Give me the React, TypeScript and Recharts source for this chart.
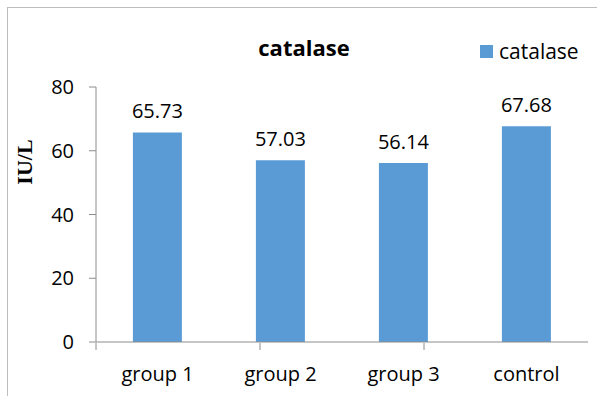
import React from "react";
import { BarChart, Bar, XAxis, YAxis, LabelList, Legend } from "recharts";

const categories = ["group 1", "group 2", "group 3", "control"];
const catalaseValues = [65.73, 57.03, 56.14, 67.68];
const yTicks = [0, 20, 40, 60, 80];
const boundaryTicks = [0, 1, 2, 3, 4];
const seriesName = "catalase";
const chartTitle = "catalase";
const yAxisTitle = "IU/L";

const data = categories.map((c, i) => ({ name: c, catalase: catalaseValues[i] }));

const FONT = "'Open Sans', sans-serif";
const BLUE = "#5B9BD5";
const AXIS = "#8c8c8c";

const LegendContent = () => (
  <div style={{ display: "flex", alignItems: "center", fontFamily: FONT, fontSize: 21, color: "#000" }}>
    <span style={{ display: "inline-block", width: 13, height: 13, background: BLUE, marginRight: 6 }} />
    <span>{seriesName}</span>
  </div>
);

const EmptyTick = () => <g />;

export default function App() {
  return (
    <div style={{ position: "absolute", left: 0, top: 0, width: 597, height: 396, background: "#fff", overflow: "hidden" }}>
      <div style={{ position: "absolute", left: 7, top: 7, width: 620, height: 420, border: "1px solid #bdbdbd", boxSizing: "border-box" }} />
      <BarChart
        width={597}
        height={396}
        data={data}
        margin={{ top: 87, right: 9, bottom: 24, left: 36 }}
        barCategoryGap="30%"
      >
        <text x={304} y={47} textAnchor="middle" dominantBaseline="central" fontFamily={FONT} fontWeight="bold" fontSize={22} fill="#000">
          {chartTitle}
        </text>
        <text
          x={24}
          y={162}
          textAnchor="middle"
          dominantBaseline="central"
          fontFamily="'Liberation Serif', serif"
          fontWeight="bold"
          fontSize={22}
          fill="#000"
          transform="rotate(-90 24 162)"
        >
          {yAxisTitle}
        </text>
        <XAxis
          dataKey="name"
          height={1}
          stroke={AXIS}
          tickLine={false}
          tick={{ fill: "#000", fontFamily: FONT, fontSize: 20 }}
          tickMargin={19}
          interval={0}
        />
        <XAxis
          xAxisId="bounds"
          type="number"
          domain={[0, 4]}
          ticks={boundaryTicks}
          height={29}
          axisLine={false}
          stroke={AXIS}
          tickSize={7}
          tick={<EmptyTick />}
        />
        <YAxis
          width={60}
          domain={[0, 80]}
          ticks={yTicks}
          stroke={AXIS}
          tickSize={7}
          tick={{ fill: "#000", fontFamily: FONT, fontSize: 20 }}
          tickMargin={15}
        />
        <Legend
          verticalAlign="middle"
          align="center"
          content={<LegendContent />}
          wrapperStyle={{ position: "absolute", left: 480, top: 37, width: 120 }}
        />
        <Bar dataKey="catalase" name={seriesName} fill={BLUE} isAnimationActive={false}>
          <LabelList dataKey="catalase" position="top" offset={14} fill="#000" fontFamily={FONT} fontSize={20} />
        </Bar>
      </BarChart>
    </div>
  );
}
